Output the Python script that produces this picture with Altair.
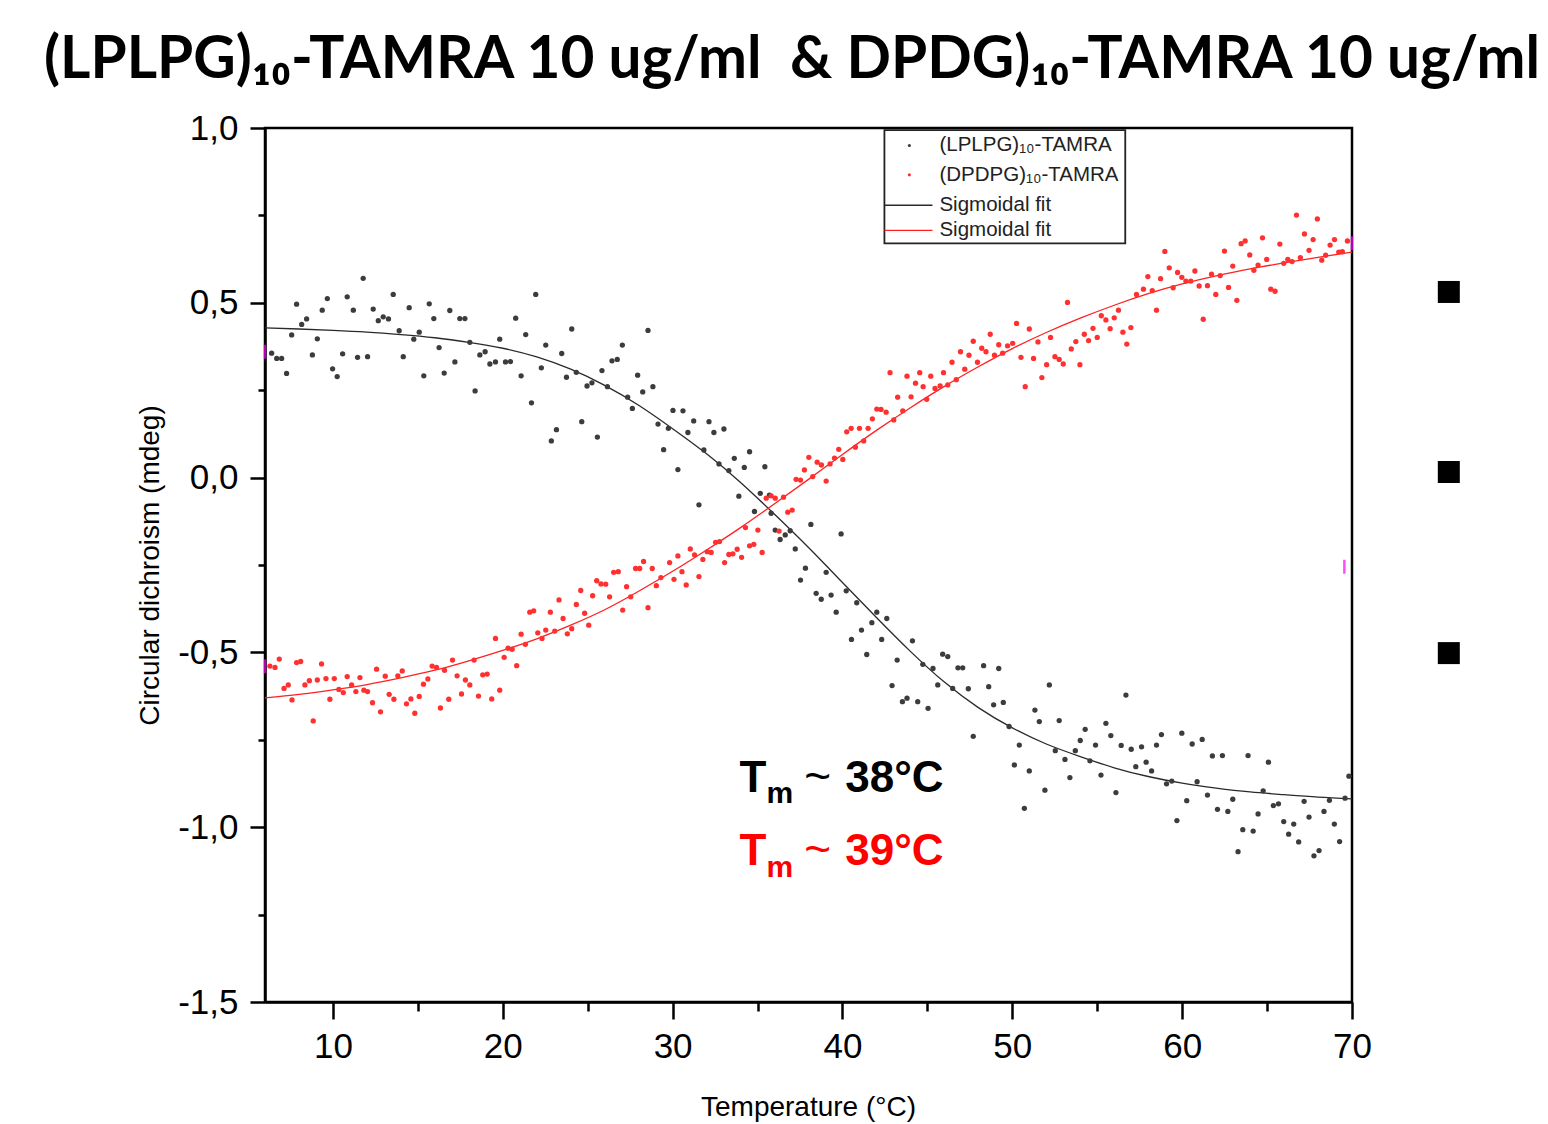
import altair as alt
import pandas as pd

# ---------------- data ----------------
black_t = [6.39, 6.69, 6.98, 7.27, 7.57, 7.86, 8.16, 8.45, 8.79, 9.08, 9.37, 9.67, 9.98, 10.25, 10.57,
           10.84, 11.2, 11.45, 11.78, 12.04, 12.37, 12.67, 12.96, 13.27, 13.55, 13.9, 14.14, 14.49, 14.76,
           15.08, 15.35, 15.67, 15.94, 16.25, 16.55, 16.88, 17.18, 17.47, 17.77, 18.06, 18.37, 18.65, 18.96,
           19.24, 19.57, 19.82, 20.16, 20.45, 20.76, 21.08, 21.35, 21.69, 21.94, 22.27, 22.53, 22.86, 23.16,
           23.47, 23.75, 24.06, 24.33, 24.65, 24.96, 25.25, 25.57, 25.84, 26.16, 26.43, 26.74, 27.04, 27.35,
           27.63, 27.94, 28.24, 28.55, 28.84, 29.14, 29.47, 29.75, 30.02, 30.31, 30.61, 30.90, 31.24, 31.55,
           31.84, 32.14, 32.43, 32.73, 33.02, 33.31, 33.63, 33.90, 34.22, 34.53, 34.82, 35.16, 35.43, 35.70,
           35.80, 36.04, 36.33, 36.63, 36.92, 37.22, 37.53, 37.82, 38.14, 38.45, 38.75, 39.04, 39.33, 39.63,
           39.92, 40.22, 40.53, 40.84, 41.12, 41.43, 41.73, 42.02, 42.31, 42.61, 42.92, 43.22, 43.53, 43.80,
           44.12, 44.43, 44.73, 45.04, 45.33, 45.61, 45.90, 46.20, 46.49, 46.80, 47.08, 47.41, 47.70, 48.31,
           48.61, 48.90, 49.20, 49.47, 49.81, 50.12, 50.41, 50.71, 51.00, 51.33, 51.59, 51.92, 52.18, 52.53,
           52.76, 53.10, 53.39, 53.71, 54.00, 54.29, 54.57, 54.90, 55.22, 55.51, 55.80, 56.10, 56.41, 56.69,
           57.00, 57.27, 57.61, 57.88, 58.20, 58.49, 58.78, 59.08, 59.39, 59.69, 59.98, 60.27, 60.59, 60.88,
           61.18, 61.49, 61.78, 62.08, 62.37, 62.69, 62.98, 63.29, 63.57, 63.88, 64.18, 64.47, 64.77, 65.08,
           65.37, 65.67, 65.98, 66.27, 66.57, 66.86, 67.18, 67.47, 67.76, 68.06, 68.35, 68.67, 68.96, 69.27,
           69.59, 69.82]
black_cd = [0.356, 0.341, 0.341, 0.298, 0.408, 0.496, 0.438, 0.454, 0.351, 0.397, 0.479, 0.512, 0.311, 0.289,
            0.354, 0.517, 0.479, 0.344, 0.570, 0.346, 0.482, 0.449, 0.460, 0.454, 0.524, 0.420, 0.346, 0.486,
            0.396, 0.416, 0.291, 0.497, 0.455, 0.372, 0.299, 0.478, 0.331, 0.455, 0.455, 0.387, 0.248, 0.351,
            0.360, 0.325, 0.331, 0.396, 0.331, 0.332, 0.456, 0.291, 0.409, 0.214, 0.524, 0.314, 0.379, 0.105,
            0.137, 0.355, 0.287, 0.425, 0.301, 0.160, 0.262, 0.271, 0.116, 0.306, 0.260, 0.334, 0.338, 0.379,
            0.230, 0.198, 0.293, 0.245, 0.421, 0.260, 0.153, 0.080, 0.141, 0.192, 0.023, 0.191, 0.129, 0.162,
            -0.078, 0.079, 0.160, 0.129, 0.039, 0.139, 0.020, 0.055, -0.053, 0.029, 0.074, -0.097, -0.045,
            0.031, -0.050, -0.102, -0.150, -0.177, -0.164, -0.152, -0.204, -0.293, -0.259, -0.134, -0.331,
            -0.348, -0.271, -0.336, -0.385, -0.161, -0.324, -0.463, -0.358, -0.436, -0.506, -0.415, -0.385,
            -0.463, -0.403, -0.595, -0.522, -0.641, -0.631, -0.467, -0.641, -0.534, -0.660, -0.546, -0.593,
            -0.505, -0.512, -0.603, -0.544, -0.544, -0.604, -0.740, -0.538, -0.598, -0.650, -0.546, -0.643,
            -0.712, -0.822, -0.765, -0.946, -0.839, -0.665, -0.698, -0.894, -0.593, -0.781, -0.695, -0.806,
            -0.858, -0.781, -0.752, -0.720, -0.810, -0.765, -0.851, -0.703, -0.738, -0.901, -0.766, -0.622,
            -0.777, -0.827, -0.770, -0.814, -0.839, -0.765, -0.735, -0.876, -0.868, -0.981, -0.731, -0.924,
            -0.762, -0.870, -0.749, -0.908, -0.796, -0.949, -0.795, -0.955, -0.920, -1.070, -1.007, -0.795,
            -1.011, -0.962, -0.896, -0.814, -0.938, -0.933, -0.984, -1.020, -0.991, -1.042, -0.926, -0.971,
            -1.082, -1.067, -0.955, -0.923, -0.991, -1.041, -0.917, -0.854]

red_t = [6.29, 6.59, 6.84, 7.12, 7.37, 7.59, 7.86, 8.10, 8.35, 8.61, 8.84, 9.08, 9.33, 9.59, 9.82, 10.08,
         10.35, 10.61, 10.84, 11.10, 11.35, 11.59, 11.82, 12.04, 12.33, 12.57, 12.80, 13.08, 13.31, 13.59,
         13.82, 14.08, 14.33, 14.59, 14.82, 15.08, 15.33, 15.59, 15.84, 16.10, 16.33, 16.57, 16.82, 17.04,
         17.31, 17.57, 17.80, 18.06, 18.31, 18.57, 18.82, 19.08, 19.35, 19.57, 19.82, 20.08, 20.31, 20.55,
         20.82, 21.08, 21.33, 21.59, 21.82, 22.06, 22.31, 22.53, 22.80, 23.06, 23.31, 23.55, 23.80, 24.06,
         24.33, 24.59, 24.82, 25.06, 25.29, 25.53, 25.78, 26.06, 26.29, 26.53, 26.80, 27.06, 27.29, 27.53,
         27.82, 28.06, 28.29, 28.55, 28.80, 29.04, 29.31, 29.82, 30.08, 30.31, 30.55, 30.80, 31.04, 31.29,
         31.55, 31.78, 32.04, 32.27, 32.53, 32.76, 33.06, 33.31, 33.55, 33.80, 34.06, 34.29, 34.53, 34.78,
         35.02, 35.27, 35.51, 35.80, 36.04, 36.27, 36.53, 36.78, 37.04, 37.27, 37.53, 37.76, 38.02, 38.25,
         38.51, 38.76, 39.04, 39.27, 39.53, 39.78, 40.02, 40.25, 40.51, 40.76, 41.00, 41.25, 41.51, 41.76,
         42.02, 42.27, 42.57, 42.80, 43.02, 43.25, 43.55, 43.80, 44.04, 44.30, 44.55, 44.75, 44.96, 45.20,
         45.45, 45.75, 45.95, 46.20, 46.45, 46.70, 46.95, 47.20, 47.45, 47.70, 47.95, 48.20, 48.45, 48.70,
         48.95, 49.20, 49.43, 49.72, 50.02, 50.25, 50.51, 50.76, 51.00, 51.25, 51.51, 51.74, 52.02, 52.25,
         52.51, 52.76, 53.00, 53.25, 53.47, 53.74, 53.98, 54.24, 54.49, 54.75, 55.00, 55.24, 55.51, 55.76,
         56.00, 56.25, 56.51, 56.74, 56.98, 57.31, 57.72, 57.98, 58.24, 58.49, 58.73, 58.98, 59.24, 59.47,
         59.73, 59.98, 60.22, 60.51, 60.75, 61.00, 61.24, 61.49, 61.73, 61.98, 62.24, 62.49, 62.73, 62.98,
         63.22, 63.47, 63.71, 63.98, 64.22, 64.47, 64.73, 64.98, 65.22, 65.47, 65.75, 65.98, 66.22, 66.47,
         66.73, 66.96, 67.20, 67.47, 67.71, 67.96, 68.22, 68.45, 68.71, 68.97, 69.22, 69.43, 69.73]
red_cd = [-0.539, -0.543, -0.519, -0.603, -0.593, -0.636, -0.529, -0.526, -0.593, -0.581, -0.696, -0.579,
          -0.533, -0.575, -0.634, -0.575, -0.606, -0.615, -0.569, -0.593, -0.612, -0.572, -0.608, -0.612,
          -0.644, -0.548, -0.670, -0.568, -0.620, -0.634, -0.567, -0.553, -0.647, -0.633, -0.674, -0.626,
          -0.591, -0.576, -0.539, -0.543, -0.659, -0.551, -0.634, -0.522, -0.567, -0.619, -0.579, -0.593,
          -0.522, -0.625, -0.564, -0.562, -0.633, -0.460, -0.608, -0.514, -0.488, -0.491, -0.538, -0.448,
          -0.477, -0.385, -0.381, -0.444, -0.460, -0.436, -0.385, -0.439, -0.350, -0.403, -0.447, -0.432,
          -0.363, -0.323, -0.388, -0.422, -0.338, -0.295, -0.304, -0.305, -0.341, -0.271, -0.269, -0.379,
          -0.312, -0.341, -0.260, -0.260, -0.240, -0.372, -0.260, -0.309, -0.286, -0.243, -0.291, -0.224,
          -0.269, -0.307, -0.204, -0.221, -0.283, -0.234, -0.212, -0.214, -0.185, -0.183, -0.243, -0.220,
          -0.218, -0.205, -0.228, -0.143, -0.195, -0.191, -0.150, -0.214, -0.059, -0.052, -0.059, -0.153,
          -0.056, -0.099, -0.093, -0.005, -0.007, 0.022, 0.058, 0.003, 0.044, 0.036, -0.010, 0.039, 0.056,
          0.081, 0.052, 0.131, 0.141, 0.087, 0.141, 0.105, 0.141, 0.168, 0.196, 0.195, 0.187, 0.300, 0.165,
          0.230, 0.191, 0.290, 0.231, 0.270, 0.300, 0.260, 0.224, 0.290, 0.255, 0.262, 0.300, 0.265, 0.330,
          0.280, 0.360, 0.310, 0.350, 0.390, 0.330, 0.370, 0.360, 0.410, 0.350, 0.380, 0.356, 0.377, 0.384,
          0.441, 0.344, 0.260, 0.425, 0.341, 0.388, 0.286, 0.323, 0.401, 0.346, 0.338, 0.325, 0.501, 0.368,
          0.389, 0.323, 0.410, 0.392, 0.427, 0.401, 0.463, 0.451, 0.426, 0.457, 0.479, 0.416, 0.382, 0.429,
          0.524, 0.539, 0.575, 0.535, 0.479, 0.569, 0.647, 0.600, 0.543, 0.587, 0.573, 0.562, 0.562, 0.591,
          0.548, 0.453, 0.549, 0.582, 0.524, 0.578, 0.648, 0.544, 0.605, 0.507, 0.669, 0.677, 0.637, 0.593,
          0.608, 0.686, 0.624, 0.539, 0.533, 0.668, 0.613, 0.624, 0.618, 0.751, 0.629, 0.697, 0.650, 0.681,
          0.740, 0.622, 0.636, 0.665, 0.681, 0.645, 0.646, 0.677]

fit_t = [6, 8, 10, 12, 14, 16, 18, 20, 22, 24, 26, 28, 30, 32, 34, 36, 38, 40, 42, 44, 46, 48, 50, 52,
         54, 56, 58, 60, 62, 64, 66, 68, 70]
black_fit = [0.428, 0.425, 0.421, 0.416, 0.409, 0.400, 0.387, 0.370, 0.345, 0.310, 0.264, 0.207, 0.140,
             0.068, -0.014, -0.105, -0.200, -0.300, -0.400, -0.497, -0.585, -0.658, -0.716, -0.762, -0.798,
             -0.830, -0.855, -0.874, -0.888, -0.899, -0.907, -0.914, -0.919]
red_fit = [-0.630, -0.620, -0.607, -0.592, -0.573, -0.551, -0.524, -0.494, -0.461, -0.422, -0.378, -0.325,
           -0.268, -0.207, -0.143, -0.075, -0.005, 0.066, 0.135, 0.200, 0.261, 0.317, 0.369, 0.415, 0.456,
           0.493, 0.526, 0.554, 0.577, 0.597, 0.614, 0.630, 0.645]

# small magenta markers at the plot edges
magenta_t = [6.0, 6.0, 70.0, 69.55]
magenta_cd = [0.36, -0.54, 0.67, -0.255]

# slide bullets to the right of the plot
bullet_t = [75.7, 75.7, 75.7]
bullet_cd = [0.531, 0.016, -0.502]

legend_labels = ["(LPLPG)\u2081\u2080-TAMRA", "(DPDPG)\u2081\u2080-TAMRA", "Sigmoidal fit", "Sigmoidal fit"]
title_text = ["(LPLPG)\u2081\u2080-TAMRA 10 ug/ml \u00a0& DPDG)\u2081\u2080-TAMRA 10 ug/ml"]

# ---------------- scales / axes ----------------
BLACK_PT = "#3c3c3c"
RED_PT = "#ff3030"
FONT = "Liberation Sans"

x_scale = alt.Scale(domain=[6, 70], nice=False, zero=False)
y_scale = alt.Scale(domain=[-1.5, 1.0], nice=False, zero=False)

x_major = "datum.value % 10 == 0"
y_major = "abs(datum.value * 2 - round(datum.value * 2)) < 0.001"

x_axis = alt.Axis(
    values=[10, 15, 20, 25, 30, 35, 40, 45, 50, 55, 60, 65, 70],
    labelExpr=f"{x_major} ? format(datum.value, 'd') : ''",
    tickSize={"condition": {"test": x_major, "value": 17}, "value": 9},
    labelPadding=10, labelFlush=False, labelOverlap=False,
    title="Temperature (\u00b0C)", titleX=543, titleY=105, titleBaseline="middle",
    grid=False,
)
y_axis = alt.Axis(
    values=[-1.5, -1.25, -1.0, -0.75, -0.5, -0.25, 0.0, 0.25, 0.5, 0.75, 1.0],
    labelExpr=(f"{y_major} ? replace((datum.value < 0 ? '-' : '') + "
               "format(abs(datum.value), '.1f'), '.', ',') : ''"),
    tickSize={"condition": {"test": y_major, "value": 15}, "value": 7},
    labelPadding=12, labelOverlap=False, labelFlush=False,
    title="Circular dichroism (mdeg)", titleX=-115, titleY=437, titleAngle=-90,
    titleBaseline="middle", titleAlign="center",
    grid=False,
)

X = alt.X("t:Q", scale=x_scale, axis=x_axis)
Y = alt.Y("cd:Q", scale=y_scale, axis=y_axis)

# ---------------- data frames ----------------
black_df = pd.DataFrame({"t": black_t, "cd": black_cd})
red_df = pd.DataFrame({"t": red_t, "cd": red_cd})
bfit_df = pd.DataFrame({"t": fit_t, "cd": black_fit})
rfit_df = pd.DataFrame({"t": fit_t, "cd": red_fit})
mag_df = pd.DataFrame({"t": magenta_t, "cd": magenta_cd})
bul_df = pd.DataFrame({"t": bullet_t, "cd": bullet_cd})

pts_black = alt.Chart(black_df).mark_point(filled=True, size=28, color=BLACK_PT, opacity=1).encode(x=X, y=Y)
pts_red = alt.Chart(red_df).mark_point(filled=True, size=28, color=RED_PT, opacity=1).encode(x=X, y=Y)
fit_black = alt.Chart(bfit_df).mark_line(color="#2a2a2a", strokeWidth=1.3, interpolate="natural").encode(x=X, y=Y)
fit_red = alt.Chart(rfit_df).mark_line(color="#ff2020", strokeWidth=1.3, interpolate="natural").encode(x=X, y=Y)
mag = alt.Chart(mag_df).mark_tick(orient="vertical", color="#ff00ff", size=14, thickness=2.5).encode(x=X, y=Y)
bullets = alt.Chart(bul_df).mark_square(size=484, color="black", opacity=1, filled=True).encode(x=X, y=Y)

# ---------------- legend (drawn in data space) ----------------
leg_box_df = pd.DataFrame({"t": [42.47], "t2": [56.65], "cd": [0.994], "cd2": [0.670]})
leg_box = alt.Chart(leg_box_df).mark_rect(fill="white", stroke="#222222", strokeWidth=1.8).encode(
    x=X, x2="t2:Q", y=Y, y2="cd2:Q")
leg_rows_cd = [0.950, 0.866, 0.779, 0.707]
leg_pt_black = alt.Chart(pd.DataFrame({"t": [43.94], "cd": [leg_rows_cd[0]]})).mark_point(
    filled=True, size=10, color=BLACK_PT, opacity=1).encode(x=X, y=Y)
leg_pt_red = alt.Chart(pd.DataFrame({"t": [43.94], "cd": [leg_rows_cd[1]]})).mark_point(
    filled=True, size=10, color=RED_PT, opacity=1).encode(x=X, y=Y)
leg_line_black = alt.Chart(pd.DataFrame({"t": [42.47, 45.3], "cd": [leg_rows_cd[2]] * 2})).mark_line(
    color="#2a2a2a", strokeWidth=1.3).encode(x=X, y=Y)
leg_line_red = alt.Chart(pd.DataFrame({"t": [42.47, 45.3], "cd": [leg_rows_cd[3]] * 2})).mark_line(
    color="#ff2020", strokeWidth=1.3).encode(x=X, y=Y)
leg_text = alt.Chart(pd.DataFrame({"t": [45.71] * 4, "cd": leg_rows_cd, "label": legend_labels})).mark_text(
    align="left", baseline="middle", font=FONT, fontSize=20.5, color="#222222").encode(x=X, y=Y, text="label:N")

# ---------------- Tm annotations ----------------
def txt(t, cd, label, size, color, weight="bold"):
    return alt.Chart(pd.DataFrame({"t": [t], "cd": [cd], "label": [label]})).mark_text(
        align="left", baseline="alphabetic", font=FONT, fontSize=size, fontWeight=weight, color=color
    ).encode(x=X, y=Y, text="label:N")

ann = [
    txt(33.94, -0.8985, "T", 44, "black"),
    txt(35.53, -0.932, "m", 30, "black"),
    txt(37.75, -0.8985, "~", 46, "black", "normal"),
    txt(40.16, -0.8985, "38\u00b0C", 44, "black"),
    txt(33.94, -1.108, "T", 44, "#ff0000"),
    txt(35.53, -1.1416, "m", 30, "#ff0000"),
    txt(37.75, -1.108, "~", 46, "#ff0000", "normal"),
    txt(40.16, -1.108, "39\u00b0C", 44, "#ff0000"),
]

# ---------------- slide title (placed above the plot area) ----------------
title_mark = alt.Chart(pd.DataFrame({"label": title_text})).mark_text(
    align="center", baseline="alphabetic", font="Lato", fontSize=58.5, fontWeight="bold", color="black"
).encode(x=alt.value(527), y=alt.value(-50), text="label:N")

chart = alt.layer(
    fit_black, fit_red, pts_black, pts_red, mag, bullets,
    leg_box, leg_pt_black, leg_pt_red, leg_line_black, leg_line_red, leg_text,
    *ann, title_mark,
).properties(
    width=1087, height=874,
    padding={"left": 265, "top": 128, "right": 196, "bottom": 122},
    autosize=alt.AutoSizeParams(type="none"),
).configure_view(
    stroke="black", strokeWidth=2.5
).configure_axis(
    domainColor="black", domainWidth=2.5, tickColor="black", tickWidth=2.5,
    labelFont=FONT, labelFontSize=35, labelColor="black",
    titleFont=FONT, titleFontSize=28, titleFontWeight="normal", titleColor="black",
)

chart.save("out.html", embed_options={"renderer": "svg", "actions": False})
